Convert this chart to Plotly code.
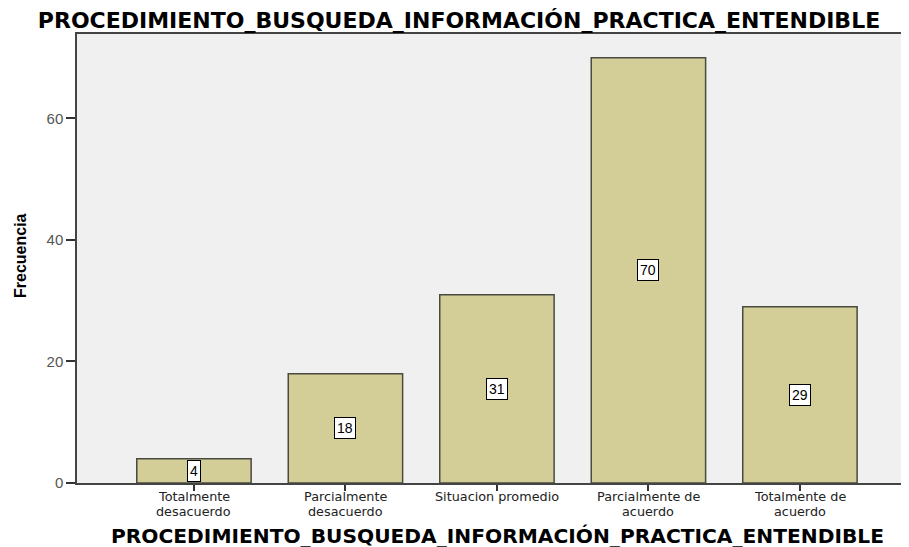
import plotly.graph_objects as go

categories = ["Totalmente<br>desacuerdo", "Parcialmente<br>desacuerdo", "Situacion promedio",
              "Parcialmente de<br>acuerdo", "Totalmente de<br>acuerdo"]
values = [4, 18, 31, 70, 29]
y_ticks = [0, 20, 40, 60]
title = "PROCEDIMIENTO_BUSQUEDA_INFORMACIÓN_PRACTICA_ENTENDIBLE"

x_idx = list(range(len(categories)))

# page body has an 8px default margin, so the figure is 8px smaller than the window
W, H = 901, 539
OFF = 8
L, T, B = 77 - OFF, 34 - OFF, 483 - OFF   # plot edges in figure pixels
PW, PH = W - L, B - T

fig = go.Figure()
fig.add_trace(go.Bar(
    x=x_idx, y=values, width=0.755,
    marker=dict(color="#d3ce97", line=dict(color="#4a4a40", width=1.5)),
    hoverinfo="y",
))

for i, v in zip(x_idx, values):
    fig.add_annotation(x=i, y=v / 2, text=str(v), showarrow=False,
                       font=dict(family="Liberation Sans", size=14, color="black"),
                       bgcolor="white", bordercolor="black", borderwidth=1, borderpad=2)

# category labels, one annotation per line for tight line spacing
for i, cat in zip(x_idx, categories):
    for j, line in enumerate(cat.split("<br>")):
        fig.add_annotation(x=i, xref="x", y=0, yref="paper", yshift=-13.5 - 14.5 * j,
                           text=line, showarrow=False, yanchor="middle",
                           font=dict(family="DejaVu Sans", size=12.8, color="#222"))

fig.update_layout(
    width=W, height=H,
    margin=dict(l=L, r=0, t=T, b=H - B, pad=0),
    paper_bgcolor="white", plot_bgcolor="#f0f0f0",
    showlegend=False,
    title=dict(text=title, x=(459 - OFF) / W, xanchor="center", y=1 - (20.5 - OFF) / H, yanchor="middle",
               font=dict(family="DejaVu Sans", size=22, color="black", weight="bold")),
)
fig.update_xaxes(
    range=[-0.772, 4.72], tickvals=x_idx, ticktext=[""] * len(x_idx),
    ticks="outside", ticklen=6, tickcolor="#333", tickwidth=1.5,
    showline=True, linecolor="#444", linewidth=1.5, mirror=True,
    showgrid=False, zeroline=False, automargin=False,
)
fig.update_yaxes(
    range=[0, 73.9], tickvals=y_ticks,
    ticks="outside", ticklen=9, tickcolor="#333", tickwidth=1.5,
    showline=True, linecolor="#444", linewidth=1.5, mirror=False,
    showgrid=False, zeroline=False, automargin=False,
    tickfont=dict(family="Liberation Sans", size=15, color="#555"),
)

# x axis title
fig.add_annotation(x=(497 - 77) / PW, xref="paper", y=-(536 - 483) / PH, yref="paper",
                   yanchor="middle", text=title, showarrow=False,
                   font=dict(family="DejaVu Sans", size=20.2, color="black", weight="bold"))
# y axis title
fig.add_annotation(x=-(77 - 20) / PW, xref="paper", y=(483 - 255) / PH, yref="paper",
                   xanchor="center", yanchor="middle", textangle=-90, text="Frecuencia", showarrow=False,
                   font=dict(family="Liberation Sans", size=16, color="black", weight="bold"))

fig.write_html("out.html")
